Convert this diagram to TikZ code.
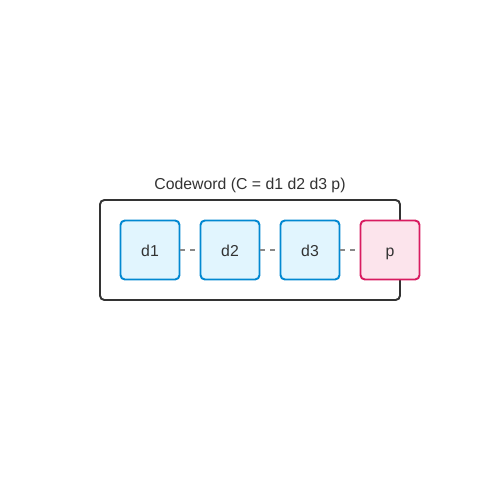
\documentclass[tikz,border=0pt]{standalone}
\usepackage{fontspec}
\setmainfont{Liberation Sans}
\usepackage{xcolor}
\usetikzlibrary{positioning}
\definecolor{inkgray}{HTML}{333333}
\definecolor{bitline}{HTML}{0288D1}
\definecolor{bitfill}{HTML}{E1F5FE}
\definecolor{parline}{HTML}{D81B60}
\definecolor{parfill}{HTML}{FCE4EC}
\definecolor{linkgray}{HTML}{888888}
\newcommand{\unitpx}{0.02cm}
\tikzset{
  databit/.style={draw=bitline,fill=bitfill,line width=1.1pt,rounded corners=2.5pt,
    minimum width=59*\unitpx,minimum height=59*\unitpx,inner sep=0pt,
    text height=1.6ex,text depth=0.3ex,
    text=inkgray,font=\fontsize{9}{11}\selectfont},
  paritybit/.style={databit,draw=parline,fill=parfill},
  bitlink/.style={draw=linkgray,line width=0.85pt,dash pattern=on 2.8pt off 2.8pt}
}
\begin{document}
\begin{tikzpicture}[x=\unitpx,y=-\unitpx]
\useasboundingbox (0,0) rectangle (500,500);
% outer codeword frame
\draw[draw=inkgray,line width=1.1pt,rounded corners=2.5pt] (100,200) rectangle (400,300);
\node[text=inkgray,font=\fontsize{9}{11}\selectfont] (title) at (250,185) {Codeword (C = d1 d2 d3 p)};
\foreach \i in {1,...,3} {
  \node[databit] (d\i) at (70+80*\i,250) {d\i};
}
\node[paritybit] (p) at (390,250) {p};
\draw[bitlink] (d1) -- (d2);
\draw[bitlink] (d2) -- (d3);
\draw[bitlink] (d3) -- (p);
\end{tikzpicture}
\end{document}
